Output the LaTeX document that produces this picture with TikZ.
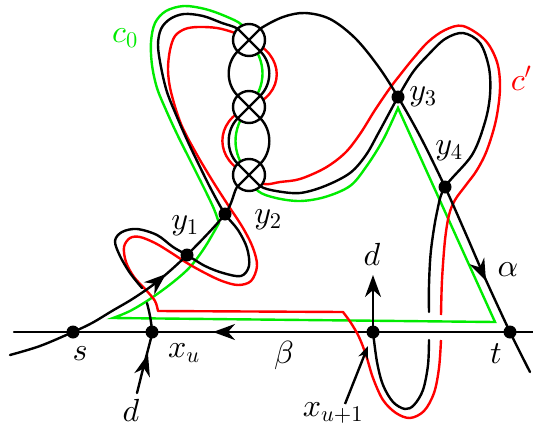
\documentclass[tikz,border=0pt]{standalone}
\DeclareFontShape{OML}{cmm}{m}{it}{<->cmmi10}{}
\DeclareFontShape{OT1}{cmr}{m}{n}{<->cmr10}{}
\DeclareFontShape{OMS}{cmsy}{m}{n}{<->cmsy10}{}
\usetikzlibrary{arrows.meta}
\definecolor{cgreen}{RGB}{0,235,0}
\definecolor{cred}{RGB}{255,0,0}
\begin{document}
\begin{tikzpicture}[x=1pt,y=-1pt,
  blk/.style={line width=2.4pt, draw=black, line cap=round, line join=round},
  grn/.style={line width=2.4pt, draw=cgreen, line join=miter},
  rd/.style={line width=2.4pt, draw=cred, line join=round},
  xc/.style={circle, draw, line width=2.4pt, fill=white, minimum size=32pt, inner sep=0pt, outer sep=0pt,
    path picture={\draw[line width=2.4pt] (path picture bounding box.north west) -- (path picture bounding box.south east)
      (path picture bounding box.north east) -- (path picture bounding box.south west);}},
  lab/.style={font=\fontsize{32}{38}\selectfont, inner sep=0pt},
  tipb/.style={-{Stealth[length=22pt,width=16pt,inset=7pt]}, line width=2.4pt},
  tips/.style={-{Stealth[length=13pt,width=10pt,inset=4pt]}, line width=2.4pt},
]
\path[use as bounding box] (0,0) rectangle (533,434);
% key points
\coordinate (s) at (73,332);
\coordinate (xu) at (152,332);
\coordinate (xv) at (373,332);
\coordinate (t) at (510,332);
\coordinate (y1) at (187,255);
\coordinate (y2) at (225,214);
\coordinate (y3) at (398,97);
\coordinate (y4) at (445,187);
\coordinate (C1) at (249,40);
\coordinate (C2) at (249,107);
\coordinate (C3) at (249,175);
\coordinate (L0) at (14,332);
\coordinate (L1) at (533,332);
% beta line
\draw[blk] (L0) -- (L1);
% green curve c0
\draw[grn] plot[smooth,tension=0.55] coordinates {(C1) (242,25) (225,16) (205,9) (184,6) (166,11) (155,23) (151,42) (152,65) (157,88) (166,110) (177,134) (191,162) (205,190) (214,209) (219,223)}
  -- plot[smooth,tension=0.55] coordinates {(219,223) (205,247) (190,267) (172,283) (150,299) (130,311) (113,318)}
  -- (495,322) -- (398,108)
  -- plot[smooth,tension=0.55] coordinates {(398,108) (383,140) (366,167) (350,186) (325,197) (300,201) (276,198) (258,191) (C3)};
\draw[grn] (C3) .. controls (231,153) and (231,129) .. (C2);
\draw[grn] (C2) .. controls (267,85) and (267,62) .. (C1);
% red curve c'
\draw[rd] plot[smooth,tension=0.55] coordinates {(C1) (235,33) (217,28) (198,27) (185,29) (175,36) (170,50) (168,70) (171,92) (181,124) (196,153) (212,180) (228,205) (243,228) (253,248) (257,266) (251,281) (238,285) (222,281) (205,273) (187,263) (170,252) (155,243) (140,237) (130,238) (124,247) (126,262) (134,277) (146,290) (155,301) (158,311)}
  -- (343,312)
  -- plot[smooth,tension=0.55] coordinates {(343,312) (351,323) (359,337) (366,355) (373,378) (383,400) (396,413) (410,418) (424,411) (434,393) (439,368) (441,340)};
\draw[rd] plot[smooth,tension=0.55] coordinates {(441,315) (442,280) (445,240) (449,215) (455,200) (466,185) (477,170) (487,150) (496,120) (500,88) (497,62) (485,40) (463,26) (445,30) (428,42) (412,60) (400,75) (390,88) (375,110) (360,134) (345,153) (325,168) (300,179) (280,182) (264,184) (C3)};
\draw[rd] (C3) .. controls (214,161) and (213,121) .. (C2);
\draw[rd] (C2) .. controls (286,95) and (286,54) .. (C1);
% black curve alpha
\draw[blk] plot[smooth,tension=0.55] coordinates {(10,355) (40,346) (s) (92,323) (112,311) (134,298) (158,281) (y1) (y2) (237,187) (C3)};
\draw[blk] (C3) -- (260.3,163.7) .. controls (272.3,151.7) and (272.3,130.3) .. (260.3,118.3) -- (C2);
\draw[blk] (C2) -- (237.7,95.7) .. controls (225.7,83.7) and (225.7,63.3) .. (237.7,51.3) -- (C1);
\draw[blk] plot[smooth,tension=0.55] coordinates {(C1) (260.3,28.7) (283,17) (305,13) (330,19) (355,38) (378,66) (y3) (421,138) (y4) (465,232) (485,278) (t) (530,372)};
% black curve d
\draw[blk] plot[smooth,tension=0.55] coordinates {(137,393) (144,365) (150,342) (xu) (150,316) (147,303)};
\draw[blk] plot[smooth,tension=0.55] coordinates {(142,288) (130,273) (120,256) (115,241) (122,232) (137,229) (157,235) (173,247) (y1) (205,266) (223,273) (241,276) (249,266) (247,248) (238,230) (y2) (212,191) (200,167) (188,142) (177,117) (167,92) (161,67) (158,45) (161,29) (170,19) (184,14) (203,16) (222,23) (237.7,28.7) (C1)};
\draw[blk] (C1) -- (260.3,51.3) .. controls (272.3,63.3) and (272.3,83.7) .. (260.3,95.7) -- (C2);
\draw[blk] (C2) -- (237.7,118.3) .. controls (225.7,130.3) and (225.7,151.7) .. (237.7,163.7) -- (C3);
\draw[blk] plot[smooth,tension=0.55] coordinates {(C3) (260.3,186.3) (276,191) (300,193) (325,186) (350,173) (366,155) (379,132) (y3) (413,72) (428,55) (445,39) (463,33) (480,43) (489,68) (490,95) (485,122) (472,155) (y4) (437,212) (431,250) (429,285) (429,312)};
\draw[blk] plot[smooth,tension=0.55] coordinates {(429,340) (428,365) (423,390) (414,405) (405,409) (393,402) (383,385) (377,362) (xv)};
\coordinate (dend) at (373,275);
\draw[blk, tipb] (xv) -- (dend);
% circles
\node[xc] (k1) at (C1) {};
\node[xc] (k2) at (C2) {};
\node[xc] (k3) at (C3) {};
% dots
\foreach \p in {s,xu,xv,t,y1,y2,y3,y4} \fill (\p) circle (6.5);
% arrowheads along curves
\coordinate (aa1) at (159,280); \coordinate (aa2) at (166,274);
\draw[tipb] (aa1) -- (aa2);
\coordinate (ab1) at (481,270); \coordinate (ab2) at (486,281);
\draw[tipb] (ab1) -- (ab2);
\coordinate (ad1) at (145.5,363); \coordinate (ad2) at (148,354);
\draw[tipb] (ad1) -- (ad2);
\coordinate (ae1) at (240,332); \coordinate (ae2) at (213,332);
\draw[tipb] (ae1) -- (ae2);
\coordinate (pa1) at (345,404); \coordinate (pa2) at (368,346);
\draw[tips] (pa1) -- (pa2);
% labels
\node[lab] (ls) at (80,354) {$s$};
\node[lab] (lxu) at (184,353) {$x_u$};
\node[lab] (lb) at (284,355) {$\beta$};
\node[lab] (ld1) at (131,410) {$d$};
\node[lab] (lxv) at (333,413) {$x_{u+1}$};
\node[lab] (lt) at (496,354) {$t$};
\node[lab] (la) at (508,270) {$\alpha$};
\node[lab] (ld2) at (372,254) {$d$};
\node[lab] (ly1) at (185,226) {$y_1$};
\node[lab] (ly2) at (268,220) {$y_2$};
\node[lab] (ly3) at (423,97) {$y_3$};
\node[lab] (ly4) at (449,151) {$y_4$};
\node[lab, text=cgreen] (lc0) at (125,38) {$c_0$};
\node[lab, text=cred] (lc1) at (521,78) {$c'$};
\end{tikzpicture}
\end{document}
